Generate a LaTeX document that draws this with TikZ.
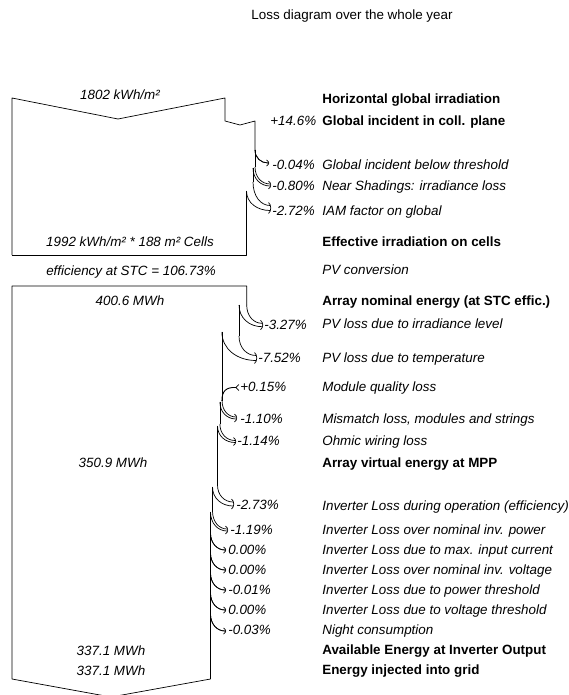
\documentclass[tikz,border=0pt]{standalone}
\usepackage{fontspec}
\setmainfont{Liberation Sans}
\newcommand{\lossarr}[7]{% xo yo xi yi xt yt gap
  \draw (#1,#2) .. controls (#1,{#2+0.6*(#6-#7-#2)}) and ({#1+0.45*(#5-#1)},{#6-#7}) .. (#5,{#6-#7});
  \draw (#3,#4) .. controls (#3,{#4+0.6*(#6+#7-#4)}) and ({#3+0.45*(#5-#3)},{#6+#7}) .. (#5,{#6+#7});
  \draw ({#5-1.5},{#6-#7-3}) .. controls ({#5+1.5},{#6-#7-1}) and ({#5+1.5},{#6+#7+1}) .. ({#5-1.5},{#6+#7+3});
}
\begin{document}
\begin{tikzpicture}[x=1pt,y=-1pt,line width=0.7pt,line join=round,
  every node/.style={inner sep=0pt,font=\fontsize{13.4}{15}\selectfont},
  desc/.style={anchor=base west,font=\fontsize{13.4}{15}\selectfont\itshape},
  head/.style={anchor=base west,font=\fontsize{13.4}{15}\selectfont\bfseries},
  pct/.style={anchor=base west,font=\fontsize{13.4}{15}\selectfont\itshape},
  val/.style={anchor=base,font=\fontsize{13.4}{15}\selectfont\itshape}]
\useasboundingbox (0,0) rectangle (569,695);
\fill[white] (0,0) rectangle (569,695);

\node[anchor=base] (title) at (352,19.5) {Loss diagram over the whole year};

% ---- top box (irradiation) ----
\draw (12,255) -- (12,98) -- (118,119) -- (225,98) -- (225,121) -- (240,125) -- (255,121) -- (255,150);
\lossarr{255}{150}{255}{150}{268}{163}{0}
\draw (255,150) -- (255,167);
\lossarr{255}{167}{253}{168}{270}{185}{1}
\draw (253,168) -- (253,182);
\lossarr{253}{182}{246.5}{191}{270}{208}{2.5}
\draw (246.5,191) -- (246.5,255) -- (12,255);

\node[val] (v1) at (120,99.5) {1802 kWh/m²};
\node[val] (v2) at (130,246.5) {1992 kWh/m² * 188 m² Cells};
\node[val] (v3) at (131,275.5) {efficiency at STC = 106.73\%};

% ---- bottom box (energy) ----
\draw (246.7,305) -- (246.7,286) -- (12,286) -- (12,679) -- (111,697) -- (210.5,679) -- (210.5,512);
\lossarr{246.7}{305}{239}{305}{262}{325}{1.7}
\draw (239,305) -- (239,336);
\lossarr{239}{336}{221.9}{332}{256}{358}{2.5}
\draw (221.9,332) -- (221.9,401);
% gain +0.15%
\draw[line width=0.9pt] (221.9,401) .. controls (221.9,391) and (226,387) .. (236,387.5);
\draw (238.8,384.5) -- (235.8,387.5) -- (238.8,390.5);
\lossarr{222.1}{401}{219.9}{402}{236}{418}{1}
\draw (219.9,402) -- (219.9,424);
\lossarr{219.9}{424}{217.5}{426}{235}{441.5}{1}
\draw (217.5,426) -- (217.5,485);
\lossarr{217.5}{485}{212.5}{487}{233}{504}{2}
\draw (212.5,487) -- (212.5,511);
\lossarr{212.5}{511}{210.5}{512}{227}{530}{1}
\lossarr{210.5}{533}{210.5}{533}{225}{550}{0}
\lossarr{210.5}{553}{210.5}{553}{225}{570}{0}
\lossarr{210.5}{573}{210.5}{573}{225}{590}{0}
\lossarr{210.5}{593}{210.5}{593}{225}{610}{0}
\lossarr{210.5}{614}{210.5}{614}{225}{631}{0}

\node[val] (v4) at (130,305.5) {400.6 MWh};
\node[val] (v5) at (113,467.5) {350.9 MWh};
\node[val] (v6) at (111,655) {337.1 MWh};
\node[val] (v7) at (111,675) {337.1 MWh};

% ---- percentages ----
\node[pct] (p1) at (270,125.5) {+14.6\%};
\node[pct] (p2) at (272,169.5) {-0.04\%};
\node[pct] (p3) at (272,190.5) {-0.80\%};
\node[pct] (p4) at (272,215.5) {-2.72\%};
\node[pct] (p5) at (264,329.5) {-3.27\%};
\node[pct] (p6) at (258,362.5) {-7.52\%};
\node[pct] (p7) at (240,391.5) {+0.15\%};
\node[pct] (p8) at (240,423.5) {-1.10\%};
\node[pct] (p9) at (237,445.5) {-1.14\%};
\node[pct] (p10) at (236,509.5) {-2.73\%};
\node[pct] (p11) at (230,534.5) {-1.19\%};
\node[pct] (p12) at (228,554.5) {0.00\%};
\node[pct] (p13) at (228,574.5) {0.00\%};
\node[pct] (p14) at (228,594.5) {-0.01\%};
\node[pct] (p15) at (228,614.5) {0.00\%};
\node[pct] (p16) at (228,634.5) {-0.03\%};

% ---- descriptions ----
\node[head] (d1) at (322,103.5) {Horizontal global irradiation};
\node[head] (d2) at (322,125.5) {Global incident in coll. plane};
\node[desc] (d3) at (322,169.5) {Global incident below threshold};
\node[desc] (d4) at (322,190.5) {Near Shadings: irradiance loss};
\node[desc] (d5) at (322,215.5) {IAM factor on global};
\node[head] (d6) at (322,246.5) {Effective irradiation on cells};
\node[desc] (d7) at (322,274.5) {PV conversion};
\node[head] (d8) at (322,305.5) {Array nominal energy (at STC effic.)};
\node[desc] (d9) at (322,328.5) {PV loss due to irradiance level};
\node[desc] (d10) at (322,362.5) {PV loss due to temperature};
\node[desc] (d11) at (322,391.5) {Module quality loss};
\node[desc] (d12) at (322,423.5) {Mismatch loss, modules and strings};
\node[desc] (d13) at (322,445.5) {Ohmic wiring loss};
\node[head] (d14) at (322,467.5) {Array virtual energy at MPP};
\node[desc] (d15) at (322,510.5) {Inverter Loss during operation (efficiency)};
\node[desc] (d16) at (322,534.5) {Inverter Loss over nominal inv. power};
\node[desc] (d17) at (322,554.5) {Inverter Loss due to max. input current};
\node[desc] (d18) at (322,574.5) {Inverter Loss over nominal inv. voltage};
\node[desc] (d19) at (322,594.5) {Inverter Loss due to power threshold};
\node[desc] (d20) at (322,614.5) {Inverter Loss due to voltage threshold};
\node[desc] (d21) at (322,634.5) {Night consumption};
\node[head] (d22) at (322,654.5) {Available Energy at Inverter Output};
\node[head] (d23) at (322,674.5) {Energy injected into grid};
\end{tikzpicture}
\end{document}
